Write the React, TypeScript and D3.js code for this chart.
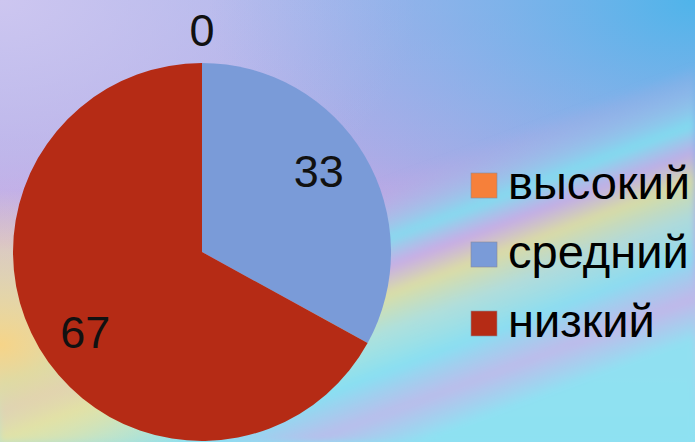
import * as d3 from 'd3'
import React from 'react'

const categories = ['высокий', 'средний', 'низкий']
const values = [0, 33, 67]
const colors = ['#f6803a', '#7a9bd8', '#b52b15']

const W = 695
const H = 442
const cx = 202
const cy = 252
const radius = 189

export default function App() {
  const pie = d3
    .pie<number>()
    .sort(null)
    .value((d) => d)
  const arcs = pie(values)
  const arc = d3.arc<d3.PieArcDatum<number>>().innerRadius(0).outerRadius(radius)

  // labels sit a little before the mid angle, like the spreadsheet does it
  const labelPos = (a: d3.PieArcDatum<number>) => {
    const r = a.data === 0 ? radius * 1.17 : radius * 0.75
    const ang = a.data === 0 ? a.startAngle : (a.startAngle + a.endAngle) / 2 - 0.07
    return [r * Math.sin(ang), -r * Math.cos(ang)]
  }

  const legendY = d3.scalePoint<string>().domain(categories).range([186, 324])

  return (
    <svg
      width={W}
      height={H}
      style={{ position: 'absolute', left: 0, top: 0, display: 'block' }}
      fontFamily="'Liberation Sans', Arial, sans-serif"
    >
      <defs>
        <linearGradient id="bgBase" x1="0" y1="0" x2="0" y2="1">
          <stop offset="0" stopColor="#a9b3ea" />
          <stop offset="0.35" stopColor="#b5abe6" />
          <stop offset="0.55" stopColor="#cca4e2" />
          <stop offset="0.8" stopColor="#a8d4ee" />
          <stop offset="1" stopColor="#8ee0f2" />
        </linearGradient>
        <radialGradient id="blueTR" cx="1" cy="0" r="0.7">
          <stop offset="0" stopColor="#4fb4ea" stopOpacity="1" />
          <stop offset="1" stopColor="#7fb0ea" stopOpacity="0" />
        </radialGradient>
        <radialGradient id="lavTL" cx="0" cy="0" r="0.6">
          <stop offset="0" stopColor="#cdc6f0" stopOpacity="1" />
          <stop offset="1" stopColor="#cdc6f0" stopOpacity="0" />
        </radialGradient>
        <linearGradient
          id="streaks"
          gradientUnits="userSpaceOnUse"
          x1="330"
          y1="200"
          x2="420"
          y2="442"
        >
          <stop offset="0" stopColor="#c8a6e2" stopOpacity="0" />
          <stop offset="0.22" stopColor="#7fe0f0" stopOpacity="0.9" />
          <stop offset="0.32" stopColor="#c8aee6" stopOpacity="0.8" />
          <stop offset="0.42" stopColor="#dfe49a" stopOpacity="0.85" />
          <stop offset="0.55" stopColor="#aee6d8" stopOpacity="0.8" />
          <stop offset="0.7" stopColor="#86e0f2" stopOpacity="0.9" />
          <stop offset="0.85" stopColor="#c2b6ea" stopOpacity="0.8" />
          <stop offset="1" stopColor="#8ee2f2" stopOpacity="0.9" />
        </linearGradient>
        <radialGradient id="warmBL" cx="0" cy="0.78" r="0.35">
          <stop offset="0" stopColor="#f6d488" stopOpacity="1" />
          <stop offset="0.6" stopColor="#e8e2a8" stopOpacity="0.6" />
          <stop offset="1" stopColor="#e8e2a8" stopOpacity="0" />
        </radialGradient>
        <filter id="soft" x="-10%" y="-10%" width="120%" height="120%">
          <feGaussianBlur stdDeviation="3" />
        </filter>
      </defs>

      <rect width={W} height={H} fill="url(#bgBase)" />
      <rect width={W} height={H} fill="url(#lavTL)" />
      <rect width={W} height={H} fill="url(#blueTR)" />
      <rect width={W} height={H} fill="url(#streaks)" filter="url(#soft)" />
      <rect width={W} height={H} fill="url(#warmBL)" />

      <g transform={`translate(${cx},${cy})`}>
        {arcs.map((a, i) => (
          <path key={`slice-${i}`} d={arc(a) || ''} fill={colors[i]} />
        ))}
        {arcs.map((a, i) => {
          const [x, y] = labelPos(a)
          return (
            <text
              key={`label-${i}`}
              x={x}
              y={y}
              textAnchor="middle"
              dominantBaseline="central"
              fontSize={45}
              fill="#111"
            >
              {values[i]}
            </text>
          )
        })}
      </g>

      {categories.map((c, i) => (
        <g key={`legend-${i}`} transform={`translate(471,${legendY(c)})`}>
          <rect x={0} y={-13} width={26} height={25} fill={colors[i]} stroke="#8a8a9a" strokeWidth={0.6} />
          <text x={37} y={13} fontSize={47} fill="#000">
            {c}
          </text>
        </g>
      ))}
    </svg>
  )
}
